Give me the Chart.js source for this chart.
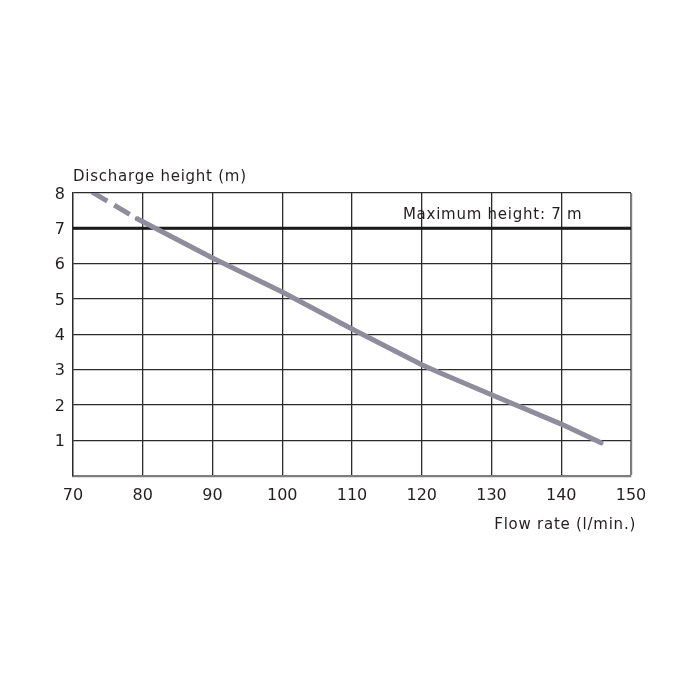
<!DOCTYPE html>
<html>
<head>
<meta charset="utf-8">
<script src="https://cdn.jsdelivr.net/npm/chart.js"></script>
<style>
  html, body { margin: 0; padding: 0; background: #fff; }
  #wrap { width: 700px; height: 700px; }
</style>
</head>
<body>
<div id="wrap"><canvas id="c"></canvas></div>
<script>
// valores
const flowRates = [72.7, 79.2, 90, 100, 110, 120, 122.5, 130, 140, 145.7];
const heights   = [8.03, 7.27, 6.16, 5.2, 4.15, 3.14, 2.92, 2.29, 1.46, 0.93];
const maxHeight = 7;
const xTicks = [70, 80, 90, 100, 110, 120, 130, 140, 150];
const yTicks = [1, 2, 3, 4, 5, 6, 7, 8];
const dashedUntil = 79.2;

const FONT = '"DejaVu Sans", sans-serif';
const TEXT = '#231f20';

const curve = flowRates.map((x, i) => ({ x: x, y: heights[i] }));
const limit = [{ x: xTicks[0], y: maxHeight }, { x: xTicks[xTicks.length - 1], y: maxHeight }];

// textos de los ejes y la etiqueta de la altura máxima
const labelsPlugin = {
  id: 'labels',
  afterDraw(chart) {
    const ctx = chart.ctx, a = chart.chartArea;
    const xs = chart.scales.x, ys = chart.scales.y;
    ctx.save();
    ctx.fillStyle = TEXT;
    ctx.font = '15px ' + FONT;
    ctx.letterSpacing = '0.75px';
    ctx.textBaseline = 'alphabetic';
    ctx.textAlign = 'left';
    ctx.fillText('Discharge height (m)', a.left, a.top - 12);
    ctx.textAlign = 'right';
    ctx.fillText('Flow rate (l/min.)', a.right + 5, a.bottom + 53);
    ctx.textAlign = 'left';
    ctx.fillText('Maximum height: 7 m', xs.getPixelForValue(117.3), ys.getPixelForValue(maxHeight) - 9);
    ctx.restore();
  }
};

new Chart(document.getElementById('c'), {
  type: 'line',
  data: {
    datasets: [
      {
        data: limit,
        borderColor: '#1a1a1a',
        borderWidth: 3,
        pointRadius: 0,
        order: 2
      },
      {
        data: curve,
        borderColor: '#8f8d9c',
        borderWidth: 5,
        pointRadius: 0,
        tension: 0,
        borderCapStyle: 'round',
        order: 1,
        segment: {
          borderDash: c => c.p1.parsed.x <= dashedUntil ? [18, 8] : undefined,
          borderCapStyle: c => c.p1.parsed.x <= dashedUntil ? 'butt' : 'round'
        }
      }
    ]
  },
  options: {
    responsive: true,
    maintainAspectRatio: false,
    animation: false,
    layout: { padding: { top: 193, right: 69, left: 43, bottom: 0 } },
    plugins: { legend: { display: false }, tooltip: { enabled: false } },
    scales: {
      x: {
        type: 'linear',
        min: 70, max: 150,
        afterFit: s => { s.height = 224.3; },
        afterBuildTicks: s => { s.ticks = xTicks.map(v => ({ value: v })); },
        grid: {
          drawTicks: false,
          color: c => c.tick && c.tick.value === 150 ? '#7d7d7d' : '#2b2b2b',
          lineWidth: c => c.tick && c.tick.value === 150 ? 2.2 : 1.3
        },
        border: { display: true, color: '#7d7d7d', width: 2.2 },
        ticks: { color: TEXT, font: { family: FONT, size: 16 }, padding: 11, maxRotation: 0 }
      },
      y: {
        type: 'linear',
        min: 0, max: 8,
        afterFit: s => { s.width = 30; },
        afterBuildTicks: s => { s.ticks = [0].concat(yTicks).map(v => ({ value: v })); },
        grid: {
          drawTicks: false,
          color: c => c.tick && c.tick.value === 0 ? 'rgba(0,0,0,0)' : '#2b2b2b',
          lineWidth: 1.3
        },
        border: { display: true, color: '#2b2b2b', width: 1.3 },
        ticks: {
          color: TEXT,
          font: { family: FONT, size: 16 },
          padding: 8,
          labelOffset: 1.5,
          callback: v => v === 0 ? '' : v
        }
      }
    }
  },
  plugins: [labelsPlugin]
});
</script>
</body>
</html>
